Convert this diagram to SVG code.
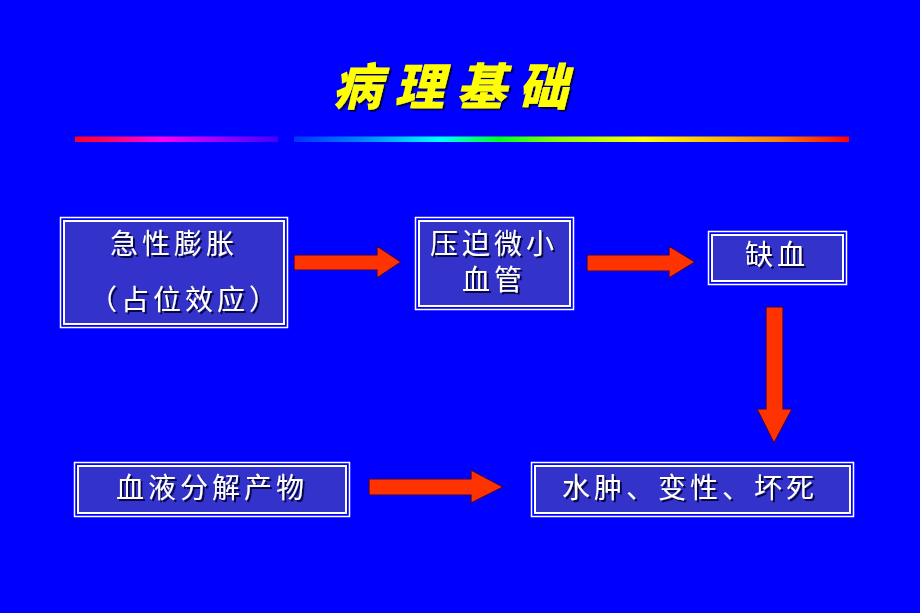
<svg xmlns="http://www.w3.org/2000/svg" width="920" height="613" viewBox="0 0 920 613">
<defs>
<linearGradient id="g1" x1="0" y1="0" x2="1" y2="0">
<stop offset="0" stop-color="#FF0022"/>
<stop offset="0.2" stop-color="#FF0077"/>
<stop offset="0.42" stop-color="#FF00EE"/>
<stop offset="0.65" stop-color="#B000FF"/>
<stop offset="0.85" stop-color="#7000FF"/>
<stop offset="1" stop-color="#4400FF"/>
</linearGradient>
<linearGradient id="g2" x1="0" y1="0" x2="1" y2="0">
<stop offset="0" stop-color="#0033FF"/>
<stop offset="0.13" stop-color="#0088FF"/>
<stop offset="0.26" stop-color="#00FFFF"/>
<stop offset="0.37" stop-color="#00FF22"/>
<stop offset="0.47" stop-color="#88FF00"/>
<stop offset="0.63" stop-color="#FFFF00"/>
<stop offset="0.75" stop-color="#FFC000"/>
<stop offset="0.87" stop-color="#FF8000"/>
<stop offset="1" stop-color="#FF0000"/>
</linearGradient>
<filter id="sh" x="-10%" y="-20%" width="130%" height="150%">
<feDropShadow dx="2" dy="2" stdDeviation="0.6" flood-color="#000033" flood-opacity="0.85"/>
</filter>
</defs>
<style>
.box-o{fill:none;stroke:#FFFFFF;stroke-width:1.5}
.box-i{fill:#3333CC;stroke:#FFFFFF;stroke-width:2}
.t{font-family:"Noto Sans CJK SC","Noto Sans",sans-serif;font-size:28px;fill:#FFFFFF;letter-spacing:4px;filter:url(#sh)}
.arrow{fill:#FF3300;stroke:#330066;stroke-width:1.2;stroke-linejoin:miter}
.title{font-family:"Noto Sans CJK SC",sans-serif;font-weight:900;font-size:50px;fill:#FFFF00;letter-spacing:12px;font-style:italic;filter:url(#sh)}
</style>
<rect x="0" y="0" width="920" height="613" fill="#0000FF"/>
<text class="title" x="332" y="105">病理基础</text>
<rect x="75" y="136.5" width="203" height="5.5" fill="url(#g1)"/>
<rect x="294" y="136.5" width="555" height="5.5" fill="url(#g2)"/>

<g id="n1">
<rect class="box-o" x="60.5" y="217.5" width="227" height="110"/>
<rect class="box-i" x="64" y="221" width="220" height="103"/>
<text class="t" x="110" y="254">急性膨胀</text>
<text class="t" x="89" y="310">（占位效应）</text>
</g>
<g id="n2">
<rect class="box-o" x="415.5" y="217.5" width="158" height="92"/>
<rect class="box-i" x="419" y="221" width="151" height="85"/>
<text class="t" x="430" y="254">压迫微小</text>
<text class="t" x="462" y="290">血管</text>
</g>
<g id="n3">
<rect class="box-o" x="708.5" y="231.5" width="138" height="53"/>
<rect class="box-i" x="712" y="235" width="131" height="46"/>
<text class="t" x="745" y="265">缺血</text>
</g>
<g id="n4">
<rect class="box-o" x="74.5" y="462.5" width="275" height="54"/>
<rect class="box-i" x="78" y="466" width="268" height="47"/>
<text class="t" x="116" y="498">血液分解产物</text>
</g>
<g id="n5">
<rect class="box-o" x="531.5" y="462.5" width="322" height="54"/>
<rect class="box-i" x="535" y="466" width="315" height="47"/>
<text class="t" x="562" y="498">水肿、变性、坏死</text>
</g>

<g id="connectors">
<polygon class="arrow" points="294,255 377,255 377,246 401,262 377,278 377,270 294,270"/>
<polygon class="arrow" points="587,255 669,255 669,246 695,262 669,278 669,271 587,271"/>
<polygon class="arrow" points="766,307 783,307 783,409 792,409 774,443 757,409 766,409"/>
<polygon class="arrow" points="369,479 471,479 471,470 503,487 471,503 471,495 369,495"/>
</g>
</svg>
